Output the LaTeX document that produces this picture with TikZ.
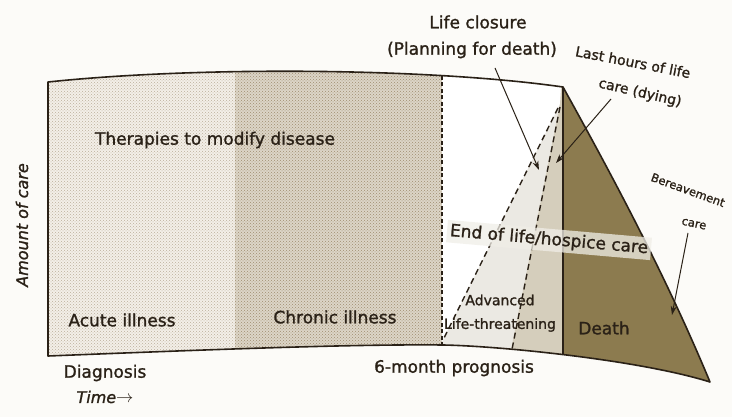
\documentclass[tikz,border=0pt]{standalone}
\usepackage{fontspec}
\setmainfont{DejaVu Sans}[FakeBold=1.3]
\usetikzlibrary{patterns,arrows.meta}
\definecolor{ink}{HTML}{2A2117}
\definecolor{paper}{HTML}{FCFBF8}
\definecolor{acute}{HTML}{F3EFE8}
\definecolor{chronic}{HTML}{DCD5C7}
\definecolor{dotc}{HTML}{9E8C6F}
\definecolor{lightab}{HTML}{EBE9E3}
\definecolor{midb}{HTML}{D5CEBC}
\definecolor{darkd}{HTML}{8C7B4F}
\definecolor{band}{HTML}{F0EEE7}
\newcommand\shapeoutline{(48,82) .. controls (200,66) and (430,68) .. (563,87) .. controls (623,195) and (670,286) .. (710,382) .. controls (640,360) and (500,346) .. (443,345) .. controls (350,344) and (200,350) .. (48,356) -- cycle}
\tikzset{
  lbl/.style={text=ink, inner sep=1pt, font=\fontsize{17}{19}\selectfont},
  small/.style={text=ink, inner sep=1pt, font=\fontsize{14}{16}\selectfont},
  tiny/.style={text=ink, inner sep=0pt, font=\fontsize{11.5}{13}\selectfont},
  dashln/.style={draw=ink, line width=1.4pt, dash pattern=on 6pt off 4pt},
  vdash/.style={draw=ink, line width=2pt, dash pattern=on 4pt off 2.5pt},
  pointer/.style={draw=ink, line width=1pt, -{Stealth[length=9pt,width=6pt]}},
  edge/.style={draw=ink, line width=1.6pt, line join=round}
}
\begin{document}
\begin{tikzpicture}[x=1pt,y=-1pt]
\useasboundingbox (0,0) rectangle (732,417);
\fill[paper] (0,0) rectangle (732,417);
\begin{scope}
  \clip \shapeoutline;
  \fill[acute] (40,60) rectangle (235,400);
  \fill[pattern=crosshatch dots, pattern color=dotc!70] (40,60) rectangle (235,400);
  \fill[chronic] (235,60) rectangle (442,400);
  \fill[pattern=crosshatch dots, pattern color=dotc] (235,60) rectangle (442,400);
  \fill[white] (442,60) rectangle (563,400);
  \fill[lightab] (560,104) -- (430,366) -- (430,420) -- (497,420) -- cycle;
  \fill[midb] (560,104) -- (497,420) -- (563,420) -- (563,60) -- cycle;
  \fill[darkd] (563,60) rectangle (740,420);
  \draw[draw=ink, line width=1.2pt] (563,60) -- (563,400);
  \draw[vdash] (442,76) -- (442,346);
  \draw[dashln] (558,108) -- (443,340);
  \draw[dashln] (560,107) -- (500,410);
\end{scope}
\draw[edge] \shapeoutline;

% labels
\node[lbl] (ther) at (215,140) {Therapies to modify disease};
\node[lbl] (acute) at (122,320) {Acute illness};
\node[lbl] (chron) at (335,317) {Chronic illness};
\node[small] (adv) at (500,300) {Advanced};
\node[small] (lt) at (500,325) {Life-threatening};
\node[lbl] (death) at (604,328) {Death};
\node[lbl, fill=band, fill opacity=0.75, text opacity=1, rotate=-5, inner sep=3pt] (eol) at (549,240) {End of life/hospice care};
\node[lbl] (diag) at (105,373) {Diagnosis};
\node[lbl, font=\fontsize{16}{18}\selectfont\itshape] (time) at (105,397) {Time$\rightarrow$};
\node[lbl, font=\fontsize{16}{18}\selectfont\itshape, rotate=90] (amount) at (22,225) {Amount of care};
\node[lbl] (lc1) at (478,22) {Life closure};
\node[lbl] (lc2) at (472,50) {(Planning for death)};
\node[small, rotate=-11] (lh1) at (633,62) {Last hours of life};
\node[small, rotate=-13] (lh2) at (640,93) {care (dying)};
\node[tiny, rotate=-20] (br1) at (688,190) {Bereavement};
\node[tiny, rotate=-12] (br2) at (694,224) {care};
\node[lbl] (six) at (454,368) {6-month prognosis};

% pointers
\coordinate (lcS) at (495,68);
\coordinate (lcE) at (539,170);
\coordinate (lhS) at (611,99);
\coordinate (lhE) at (556,163);
\coordinate (brS) at (688,233);
\coordinate (brE) at (672,315);
\draw[pointer] (lcS) -- (lcE);
\draw[pointer] (lhS) -- (lhE);
\draw[pointer] (brS) -- (brE);
\end{tikzpicture}
\end{document}
